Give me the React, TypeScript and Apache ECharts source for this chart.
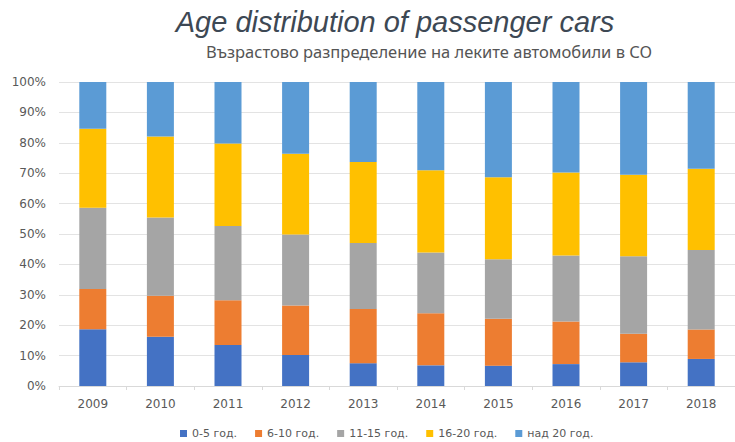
import React, { useEffect, useRef } from "react";
import * as echarts from "echarts";

const years = ["2009", "2010", "2011", "2012", "2013", "2014", "2015", "2016", "2017", "2018"];
const seriesNames = ["0-5 год.", "6-10 год.", "11-15 год.", "16-20 год.", "над 20 год."];
const age0to5 = [18.7, 16.2, 13.5, 10.2, 7.5, 6.8, 6.7, 7.2, 7.8, 8.9];
const age6to10 = [13.2, 13.5, 14.7, 16.3, 17.8, 17.1, 15.4, 14.0, 9.4, 9.7];
const age11to15 = [26.7, 25.7, 24.4, 23.3, 21.7, 20.0, 19.6, 21.7, 25.5, 26.1];
const age16to20 = [26.0, 26.7, 27.2, 26.6, 26.7, 27.1, 27.0, 27.3, 26.8, 26.8];
const ageOver20 = [15.4, 17.9, 20.2, 23.6, 26.3, 29.0, 31.3, 29.8, 30.5, 28.5];
const colors = ["#4472C4", "#ED7D31", "#A5A5A5", "#FFC000", "#5B9BD5"];
const yTicks = [0, 10, 20, 30, 40, 50, 60, 70, 80, 90, 100];

const titleText = "Age distribution of passenger cars";
const subtitleText = "Възрастово разпределение на леките автомобили в СО";

export default function App() {
  const ref = useRef<HTMLDivElement>(null);
  useEffect(() => {
    if (!ref.current) return;
    const chart = echarts.init(ref.current, null, { renderer: "svg" });
    const data = [age0to5, age6to10, age11to15, age16to20, ageOver20];
    chart.setOption({
      animation: false,
      backgroundColor: "#ffffff",
      graphic: [
        {
          type: "text",
          x: 395,
          y: 22,
          style: {
            text: titleText,
            align: "center",
            verticalAlign: "middle",
            font: "italic 29px 'Liberation Sans', Arial, sans-serif",
            fill: "#3d4854",
          },
        },
        {
          type: "text",
          x: 429,
          y: 51,
          style: {
            text: subtitleText,
            align: "center",
            verticalAlign: "middle",
            font: "16.5px 'Noto Sans', sans-serif",
            fill: "#555555",
          },
        },
      ],
      legend: {
        left: 175,
        top: 423,
        itemWidth: 7,
        itemHeight: 7,
        itemGap: 18,
        icon: "rect",
        data: seriesNames,
        textStyle: { fontFamily: "DejaVu Sans", fontSize: 11, color: "#595959" },
      },
      grid: { left: 59, top: 82, width: 686, height: 304 },
      xAxis: {
        type: "category",
        data: years,
        axisLine: { lineStyle: { color: "#d9d9d9", width: 1 } },
        axisTick: { show: true, length: 4, lineStyle: { color: "#d9d9d9" } },
        axisLabel: { margin: 12, fontFamily: "DejaVu Sans", fontSize: 12, color: "#595959" },
      },
      yAxis: {
        type: "value",
        min: yTicks[0],
        max: yTicks[yTicks.length - 1],
        interval: 10,
        axisLine: { show: false },
        axisTick: { show: false },
        splitLine: { lineStyle: { color: "#e3e3e3", width: 1 } },
        axisLabel: {
          margin: 13,
          fontFamily: "DejaVu Sans",
          fontSize: 12,
          color: "#595959",
          formatter: (v: number) => v + "%",
        },
      },
      series: seriesNames.map((name, i) => ({
        name,
        type: "bar",
        stack: "total",
        barWidth: 27,
        data: data[i],
        itemStyle: { color: colors[i] },
      })),
    });
    return () => chart.dispose();
  }, []);
  return (
    <div
      ref={ref}
      style={{ position: "fixed", left: 0, top: 0, width: 735, height: 442 }}
    />
  );
}
